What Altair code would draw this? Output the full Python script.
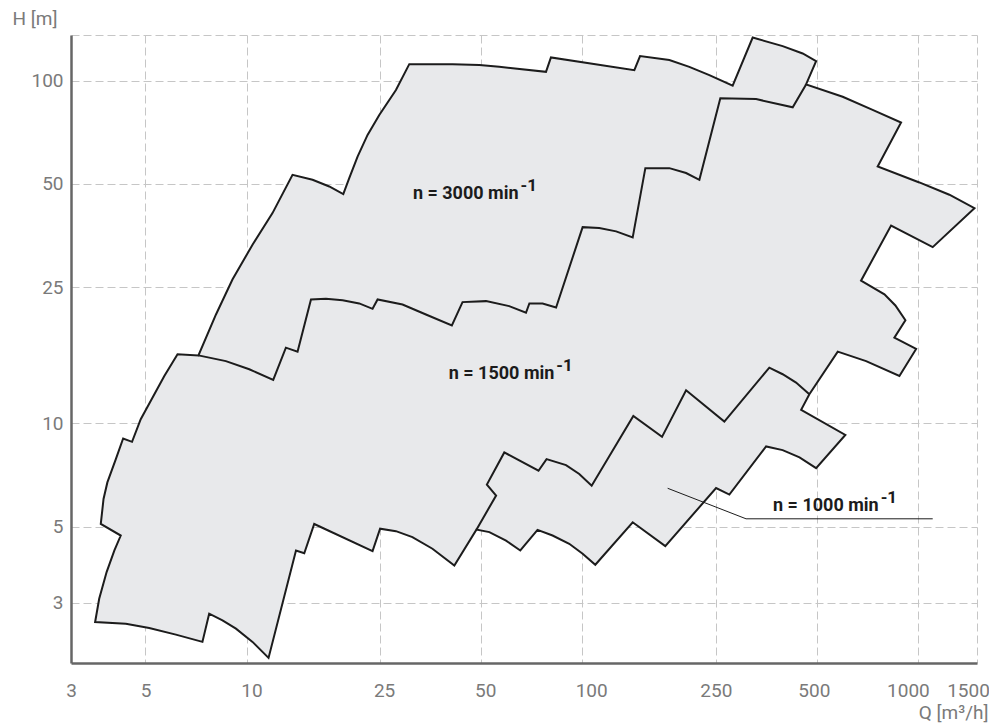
import altair as alt
import pandas as pd

# ---- data (Q in m3/h, H in m) ----
outer_q = [3.54, 3.64, 3.83, 4.04, 4.22, 3.68, 3.75, 3.85, 4.08, 4.29, 4.56, 4.84, 5.25, 5.69, 6.23,
           7.19, 8.11, 9.08, 10.42, 11.95, 13.71, 15.73, 17.64, 19.42, 20.23, 21.42, 22.94, 24.86,
           27.87, 30.54, 41.1, 49.4, 56.6, 78.0, 80.7, 143.0, 148.7, 181.8, 208.5, 239.2, 280.7,
           322.0, 395.5, 453.7, 497.5, 464.4, 597, 733, 891, 759, 1010, 1241, 1474, 1107, 832, 677,
           795, 857, 918, 851, 988, 881, 701, 577, 475, 449, 608, 497.5, 444, 395.5, 353, 274.4,
           250.5, 176.8, 141.4, 109.4, 100.3, 91.5, 81.6, 73.6, 65.4, 59.3, 52.9, 48.4, 41.6, 35.8,
           31.2, 27.87, 25.0, 23.74, 15.91, 14.86, 14.04, 11.63, 10.42, 9.30, 8.48, 7.74, 7.39,
           6.16, 5.13, 4.37]
outer_h = [2.635, 3.08, 3.685, 4.26, 4.71, 5.09, 6.02, 6.73, 7.87, 9.04, 8.84, 10.29, 11.9, 13.76, 15.91,
           15.8, 20.8, 26.3, 33.24, 41.1, 53.15, 51.4, 49.15, 46.7, 52.0, 60.1, 69.5, 79.5,
           94.0, 111.8, 111.8, 111.1, 109.8, 106.2, 117.0, 107.4, 118.0, 114.9, 109.8, 103.9, 96.7,
           133.7, 126.2, 120.1, 114.1, 97.6, 89.8, 82.2, 75.5, 56.2, 50.5, 46.5, 42.5, 32.7, 37.8, 26.1,
           23.8, 22.1, 20.0, 17.8, 16.5, 13.76, 15.2, 16.2, 12.17, 10.96, 9.26, 7.41, 7.96, 8.36, 8.57, 6.20,
           6.48, 4.385, 5.15, 3.87, 4.165, 4.455, 4.71, 4.89, 4.26, 4.55, 4.82, 4.90, 3.85, 4.31,
           4.66, 4.85, 4.93, 4.24, 5.09, 4.18, 4.26, 2.07, 2.305, 2.52, 2.665, 2.786, 2.305,
           2.42, 2.53, 2.605]

# boundary between the 3000 and 1500 min-1 fields
split_a_q = [7.19, 8.68, 10.19, 12.01, 13.1, 14.19, 15.56, 17.24, 19.33, 21.66, 23.74, 24.57, 29.16,
             34.23, 40.9, 44.0, 51.7, 60.6, 68.0, 69.6, 76.2, 83.6, 100.3, 112.4, 126.2, 141.4,
             154.2, 181.8, 203.9, 223.4, 257.9, 329.6, 423.8, 464.4]
split_a_h = [15.8, 15.2, 14.39, 13.40, 16.64, 16.2, 23.0, 23.1, 22.9, 22.4, 21.6, 23.0, 22.24,
             20.8, 19.33, 22.6, 22.75, 22.0, 21.04, 22.4, 22.4, 21.8, 37.4, 37.2, 36.35, 34.9,
             55.6, 55.6, 53.8, 51.4, 88.9, 88.4, 83.7, 97.6]

# boundary between the 1500 and 1000 min-1 fields
split_b_q = [48.4, 55.4, 52.0, 58.6, 74.1, 78.3, 89.5, 98.0, 106.7, 142.0, 172.9, 203.9, 265.1,
             360.9, 395.5, 433.6, 475]
split_b_h = [4.90, 6.16, 6.63, 8.23, 7.28, 7.87, 7.56, 7.12, 6.58, 10.52, 9.14, 12.5, 10.13,
             14.55, 13.92, 13.16, 12.17]

leader_q = [179.7, 307.7, 1107]
leader_h = [6.47, 5.27, 5.27]

label_text = ["n = 3000 min", "n = 1500 min", "n = 1000 min"]
label_q = [64.6, 82.6, 764]
label_h = [45.1, 13.45, 5.57]
label_sup = ["-1", "-1", "-1"]

x_ticks = [3, 5, 10, 25, 50, 100, 250, 500, 1000, 1500]
y_ticks = [3, 5, 10, 25, 50, 100, 136]
x_domain = [3, 1500]
y_domain = [2, 136]

FILL = "#e8e9eb"
INK = "#1c1c1c"
GRAY = "#7a7a7a"

# ---- tables ----
outer_df = pd.DataFrame({"q": outer_q, "h": outer_h, "i": range(len(outer_q))})
split_df = pd.concat([
    pd.DataFrame({"q": split_a_q, "h": split_a_h, "i": range(len(split_a_q)), "seg": "a"}),
    pd.DataFrame({"q": split_b_q, "h": split_b_h, "i": range(len(split_b_q)), "seg": "b"}),
])
leader_df = pd.DataFrame({"q": leader_q, "h": leader_h, "i": range(len(leader_q))})
label_df = pd.DataFrame({"q": label_q, "h": label_h, "t": label_text, "s": label_sup})

xs = alt.Scale(type="log", domain=x_domain, nice=False)
ys = alt.Scale(type="log", domain=y_domain, nice=False)

x_enc = alt.X("q:Q", scale=xs, axis=alt.Axis(
    values=x_ticks, format="d", title="Q [m³/h]",
    titleX=917, titleY=49, titleAlign="right", titleBaseline="middle", titleAngle=0,
    labelPadding=18, labelOverlap=False, labelFlush=False,
    labelOffset={"condition": [
        {"test": "datum.value == 10", "value": 5},
        {"test": "datum.value == 25", "value": 4},
        {"test": "datum.value == 50", "value": 4},
        {"test": "datum.value == 100", "value": 9},
        {"test": "datum.value == 500", "value": -3},
        {"test": "datum.value == 1000", "value": -10},
        {"test": "datum.value == 1500", "value": -9},
    ], "value": 0},
    gridOpacity={"condition": {"test": "datum.value == 3", "value": 0}, "value": 1},
))
y_enc = alt.Y("h:Q", scale=ys, axis=alt.Axis(
    values=y_ticks, title="H [m]", labelFlush=False, labelOverlap=False,
    labelExpr="datum.value > 130 ? '' : datum.label",
    titleX=-59, titleY=-17, titleAlign="left", titleBaseline="middle", titleAngle=0,
    labelPadding=8,
))

poly = alt.Chart(outer_df).mark_line(
    fill=FILL, stroke=INK, strokeWidth=2, interpolate="linear-closed", strokeJoin="miter"
).encode(x=x_enc, y=y_enc, order="i:Q")

splits = alt.Chart(split_df).mark_line(
    stroke=INK, strokeWidth=2, strokeJoin="miter"
).encode(x=x_enc, y=y_enc, detail="seg:N", order="i:Q")

leader = alt.Chart(leader_df).mark_line(stroke=INK, strokeWidth=1).encode(
    x=x_enc, y=y_enc, order="i:Q")

labels = alt.Chart(label_df).mark_text(
    align="right", baseline="alphabetic", font="Roboto", fontSize=18, fontWeight="bold", color=INK
).encode(x=x_enc, y=y_enc, text="t:N")

sups = alt.Chart(label_df).mark_text(
    align="left", baseline="alphabetic", font="Roboto", fontSize=17, fontWeight="bold", color=INK,
    dx=2, dy=-8
).encode(x=x_enc, y=y_enc, text="s:N")

chart = alt.layer(poly, splits, leader, labels, sups).properties(
    width=906, height=628,
    autosize=alt.AutoSizeParams(type="none"),
    padding={"left": 63, "top": 27, "right": 12, "bottom": 60},
).configure_view(strokeWidth=0).configure_axis(
    labelFont="Roboto", labelFontSize=19, labelColor=GRAY,
    titleFont="Roboto", titleFontSize=19, titleColor=GRAY, titleFontWeight="normal",
    domainColor="#666666", domainWidth=2.5,
    ticks=False, tickSize=0,
    gridColor="#c6c6c6", gridDash=[8, 4], gridWidth=1,
)

chart.save("out.html", embed_options={"renderer": "svg", "actions": False})
